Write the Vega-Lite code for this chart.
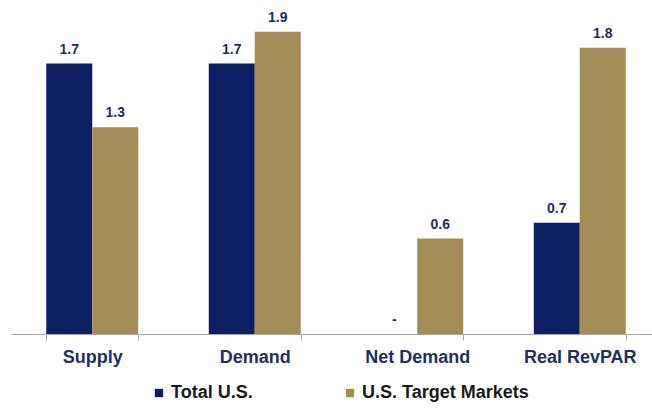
{
  "$schema": "https://vega.github.io/schema/vega-lite/v6.json",
  "width": 650,
  "height": 334,
  "autosize": {"type": "none"},
  "padding": {"left": 11, "top": 0, "right": -9, "bottom": 76},
  "background": "white",
  "config": {
    "view": {"stroke": null},
    "font": "Liberation Sans"
  },
  "data": {
    "values": [
      {"category": "Supply", "series": "Total U.S.", "value": 1.7, "label": "1.7"},
      {"category": "Supply", "series": "U.S. Target Markets", "value": 1.3, "label": "1.3"},
      {"category": "Demand", "series": "Total U.S.", "value": 1.7, "label": "1.7"},
      {"category": "Demand", "series": "U.S. Target Markets", "value": 1.9, "label": "1.9"},
      {"category": "Net Demand", "series": "Total U.S.", "value": 0, "label": "-"},
      {"category": "Net Demand", "series": "U.S. Target Markets", "value": 0.6, "label": "0.6"},
      {"category": "Real RevPAR", "series": "Total U.S.", "value": 0.7, "label": "0.7"},
      {"category": "Real RevPAR", "series": "U.S. Target Markets", "value": 1.8, "label": "1.8"}
    ]
  },
  "encoding": {
    "x": {
      "field": "category",
      "type": "nominal",
      "sort": null,
      "scale": {"paddingInner": 0.434, "paddingOuter": 0.217},
      "axis": {
        "title": null,
        "labelAngle": 0,
        "labelFontSize": 18,
        "labelFontWeight": "bold",
        "labelColor": "#1f2f5f",
        "labelPadding": 8,
        "tickBand": "extent",
        "tickSize": 6,
        "tickColor": "#a6a6a6",
        "domainColor": "#a6a6a6",
        "grid": false
      }
    },
    "xOffset": {"field": "series", "type": "nominal", "sort": null, "scale": {"paddingInner": 0, "paddingOuter": 0}},
    "y": {
      "field": "value",
      "type": "quantitative",
      "scale": {"domain": [0, 2.1], "nice": false},
      "axis": null
    }
  },
  "layer": [
    {
      "mark": {"type": "bar"},
      "encoding": {
        "color": {
          "field": "series",
          "type": "nominal",
          "sort": null,
          "scale": {"domain": ["Total U.S.", "U.S. Target Markets"], "range": ["#0d1f63", "#a38c55"]},
          "legend": {
            "title": null,
            "orient": "none",
            "direction": "horizontal",
            "legendX": 139,
            "legendY": 384,
            "padding": 0,
            "symbolType": "square",
            "symbolSize": 70,
            "symbolStrokeWidth": 0,
            "symbolOpacity": 1,
            "labelFontSize": 18,
            "labelFontWeight": "bold",
            "labelColor": "#1a1a1a",
            "labelOffset": 3,
            "labelLimit": 400,
            "columnPadding": 88
          }
        }
      }
    },
    {
      "mark": {"type": "text", "dy": -10, "baseline": "alphabetic", "fontSize": 14, "fontWeight": "bold", "color": "#1f2d5c"},
      "encoding": {
        "text": {"field": "label", "type": "nominal"}
      }
    }
  ]
}
